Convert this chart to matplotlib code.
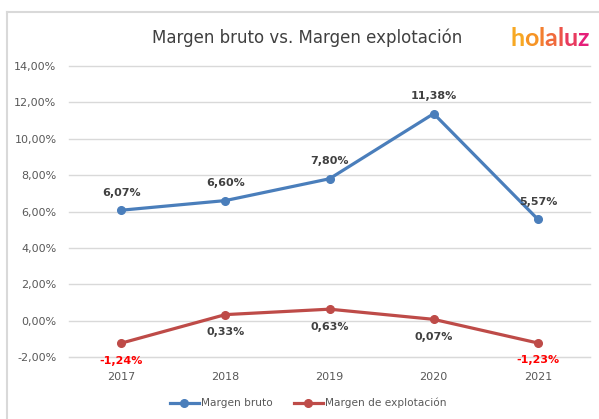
import matplotlib
matplotlib.use("Agg")
import matplotlib.pyplot as plt
from matplotlib.lines import Line2D
from matplotlib.text import Annotation

years = ["2017", "2018", "2019", "2020", "2021"]
margen_bruto = [6.07, 6.60, 7.80, 11.38, 5.57]
margen_explot = [-1.24, 0.33, 0.63, 0.07, -1.23]
yticks = [-2, 0, 2, 4, 6, 8, 10, 12, 14]

blue = "#4A7EBB"
red = "#BE4B48"
grey_txt = "#404040"
tick_col = "#595959"

def pct(v):
    return f"{v:.2f}%".replace(".", ",")

fig = plt.figure(figsize=(5.99, 4.19), dpi=100)
ax = fig.add_axes([69/599, 1-357/419, (590-69)/599, (357-66)/419])

x = list(range(len(years)))
ax.plot(x, margen_bruto, color=blue, lw=2.3, marker="o", ms=5.5, label="Margen bruto")
ax.plot(x, margen_explot, color=red, lw=2.3, marker="o", ms=5.5, label="Margen de explotación")

for i, v in enumerate(margen_bruto):
    ax.annotate(pct(v), (i, v), xytext=(0, 9), textcoords="offset points",
                ha="center", va="bottom", fontsize=8, fontweight="bold", color=grey_txt)
for i, v in enumerate(margen_explot):
    c = "#FF0000" if v < -1 else grey_txt
    ax.annotate(pct(v), (i, v), xytext=(0, -9), textcoords="offset points",
                ha="center", va="top", fontsize=8, fontweight="bold", color=c)

ax.set_xlim(-0.5, len(years) - 0.5)
ax.set_ylim(-2, 14)
ax.set_yticks(yticks)
ax.set_yticklabels([pct(t) for t in yticks])
ax.set_xticks(x)
ax.set_xticklabels(years)
ax.tick_params(axis="both", length=0, labelsize=8, colors=tick_col)
ax.tick_params(axis="y", pad=9)
ax.tick_params(axis="x", pad=11)
ax.grid(axis="y", color="#D9D9D9", lw=1, clip_on=False)
ax.set_axisbelow(True)
for s in ax.spines.values():
    s.set_visible(False)
ax.spines["bottom"].set_visible(True)
ax.spines["bottom"].set_color("#D9D9D9")

fig.legend(loc="center", bbox_to_anchor=(308/599, 1-403/419), ncol=2, frameon=False,
           fontsize=7.6, labelcolor=tick_col, handlelength=2.8, handletextpad=0.15,
           columnspacing=2.0)

fig.text(307/599, 1-38/419, "Margen bruto vs. Margen explotación", ha="center", va="center",
         fontsize=12, color=grey_txt)

# logo, one colour per letter (orange -> pink)
logo_cols = ["#F7A823", "#F69425", "#F37F2F", "#F06A3B", "#EC5349", "#E83A5E", "#E5207A"]
prev = fig.text(510/599, 1-46/419, "h", fontsize=18, fontweight="bold", family="Lato",
                color=logo_cols[0], va="baseline", ha="left")
for letter, col in zip("olaluz", logo_cols[1:]):
    prev = fig.add_artist(Annotation(letter, xy=(1, 0), xycoords=prev,
                          va="bottom", ha="left", fontsize=18, fontweight="bold",
                          family="Lato", color=col))

# border of the screenshot
fig.add_artist(Line2D([7/599, 7/599], [0, 1-12/419], color="#D9D9D9", lw=1.5))
fig.add_artist(Line2D([7/599, 1], [1-12/419, 1-12/419], color="#D9D9D9", lw=1.5))

fig.savefig("out.png", dpi=100)
